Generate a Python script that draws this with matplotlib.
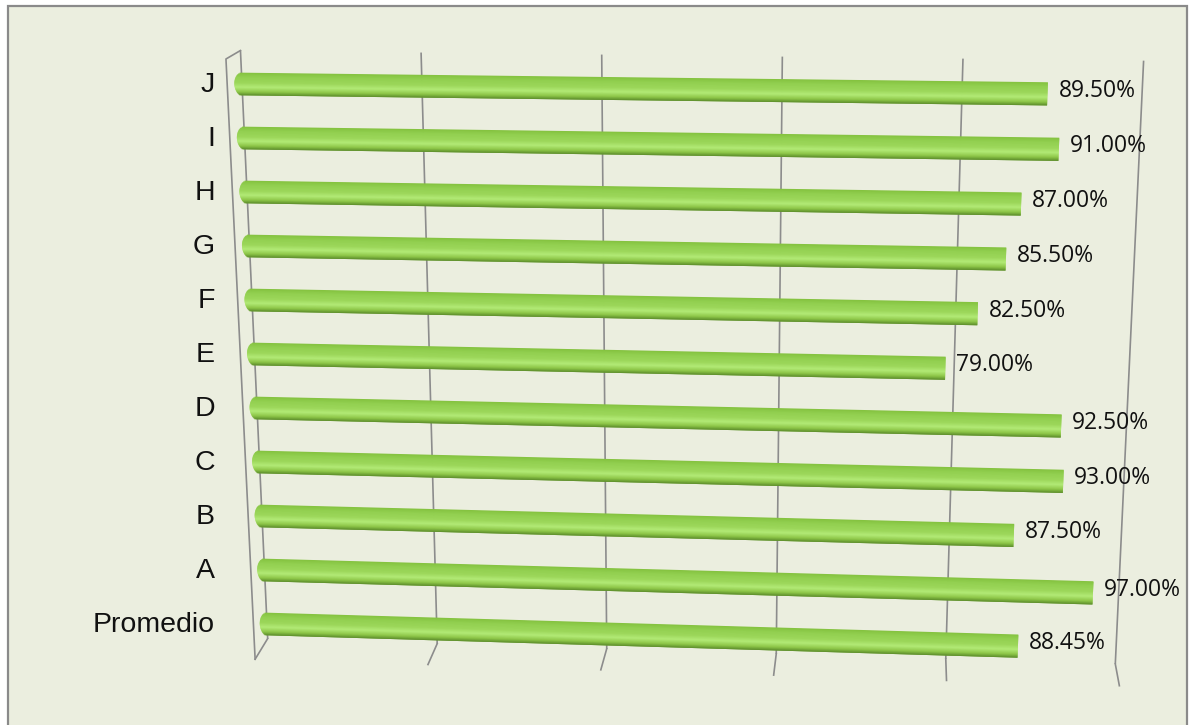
import matplotlib
matplotlib.use("Agg")
import matplotlib.pyplot as plt
import matplotlib.transforms as mtransforms
import matplotlib.patches as mpatches
from matplotlib.colors import LinearSegmentedColormap
import numpy as np

# bottom row first
categories = ["Promedio", "A", "B", "C", "D", "E", "F", "G", "H", "I", "J"]
values = [88.45, 97.00, 87.50, 93.00, 92.50, 79.00, 82.50, 85.50, 87.00, 91.00, 89.50]
grid_ticks = [0, 20, 40, 60, 80, 100]

W, H = 1190, 725
bg = "#EBEEDF"
wall = "#8C8C8C"


class Bilinear(mtransforms.Transform):
    """Maps the unit square onto a four-corner quad (tilted 3D look)."""
    input_dims = output_dims = 2

    def __init__(self, bl, br, tl, tr):
        super().__init__()
        self.corners = [np.asarray(c, float) for c in (bl, br, tl, tr)]

    def transform_non_affine(self, values):
        xy = np.asarray(values, float)
        u, w = xy[:, :1], xy[:, 1:2]
        bl, br, tl, tr = self.corners
        return (1 - u) * (1 - w) * bl + u * (1 - w) * br + (1 - u) * w * tl + u * w * tr


def px(x, y):
    return (x / W, 1 - y / H)


fig = plt.figure(figsize=(W / 100, H / 100), dpi=100)
fig.patch.set_facecolor("white")
frame = mpatches.Rectangle((8, -10), 1179, 729, transform=mtransforms.IdentityTransform(),
                           facecolor=bg, edgecolor="#8A8A8A", lw=1.6, zorder=-1)
fig.add_artist(frame)

ax = fig.add_axes([0, 0, 1, 1])
ax.set_xlim(0, 100)
ax.set_ylim(0, 10)
ax.set_autoscale_on(False)
ax.axis("off")

persp = Bilinear(px(267, 624), px(1116, 649), px(242, 84), px(1142, 95))
tr = ax.transScale + ax.transLimits + persp + fig.transFigure

# back wall grid + floor ticks
r_top, r_bot, r_front = 10.62, -0.27, -0.66
for g in grid_ticks:
    ax.plot([g, g], [r_bot, r_top], color=wall, lw=1.2, transform=tr, zorder=1,
            solid_capstyle="butt")
    ax.plot([g, g - 1.6 + 2.2 * g / 100], [r_bot, r_front], color=wall, lw=1.2,
            transform=tr, zorder=1)
# left side wall
ax.plot([0, -1.65, -1.6], [r_top, 10.46, r_front], color=wall, lw=1.2,
        transform=tr, zorder=1)

# cylinders, built from overlapping shaded strips (top edge to bottom edge)
stops = ["#84C23F", "#92D050", "#9CD75A", "#B2EA76", "#8FC849", "#5C8C2B"]
cmap = LinearSegmentedColormap.from_list(
    "cyl", list(zip([0, 0.2, 0.45, 0.64, 0.84, 1.0], stops)))
rows = np.arange(len(categories))
vals = np.array(values)
bar_h = 0.42
n = 30
step = bar_h / n
for i in range(n):
    t = (i + 0.5) / n
    cap = 0.85 * np.sqrt(max(0.0, 1 - (2 * t - 1) ** 2))
    # strip top stays at its own edge, body reaches down to cover the next seam
    top = bar_h / 2 - i * step
    hgt = step * (2.0 if i < n - 1 else 1.0)
    ax.barh(rows + top - hgt / 2, vals + cap, left=-cap, height=hgt,
            color=cmap(t), lw=0, transform=tr, zorder=3)

# value labels
lab_tr = mtransforms.offset_copy(tr, fig=fig, x=11, y=3, units="dots")
for r, v in zip(rows, values):
    ax.text(v, r, f"{v:.2f}%", transform=lab_tr, ha="left", va="center",
            fontsize=16.5, family="Open Sans", color="#111111", zorder=5)

# category labels, right aligned in a fixed column
for r, name in zip(rows, categories):
    _, y = tr.transform((0, r))
    fig.text(215, y - 1, name, transform=mtransforms.IdentityTransform(),
             ha="right", va="center", fontsize=20.5, family="Liberation Sans",
             color="#111111")

fig.savefig("out.png", dpi=100, facecolor=fig.get_facecolor())
